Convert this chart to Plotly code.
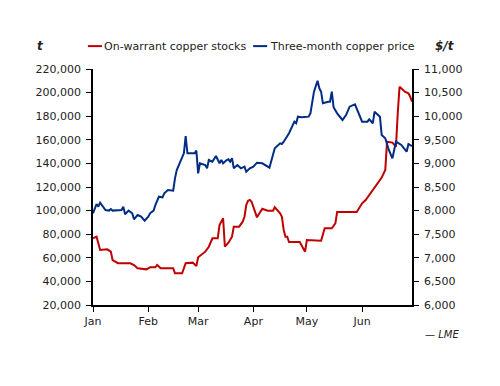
import plotly.graph_objects as go

# On-warrant copper stocks (t), left axis
stock_dates = ["2021-01-01","2021-01-03","2021-01-05","2021-01-09","2021-01-11","2021-01-12","2021-01-15",
    "2021-01-22","2021-01-24","2021-01-26","2021-01-31","2021-02-02","2021-02-05","2021-02-06","2021-02-08",
    "2021-02-15","2021-02-16","2021-02-20","2021-02-22","2021-02-26","2021-02-28","2021-03-01","2021-03-05",
    "2021-03-07","2021-03-09","2021-03-12","2021-03-13","2021-03-15","2021-03-16","2021-03-18","2021-03-20",
    "2021-03-21","2021-03-24","2021-03-26","2021-03-27","2021-03-28","2021-03-29","2021-03-30","2021-03-31",
    "2021-04-01","2021-04-03","2021-04-06","2021-04-09","2021-04-12","2021-04-13","2021-04-16","2021-04-17",
    "2021-04-18","2021-04-19","2021-04-20","2021-04-21","2021-04-27","2021-04-28","2021-04-30","2021-05-01",
    "2021-05-09","2021-05-11","2021-05-15","2021-05-17","2021-05-18","2021-05-29","2021-06-01","2021-06-03",
    "2021-06-07","2021-06-12","2021-06-14","2021-06-15","2021-06-18","2021-06-20","2021-06-21","2021-06-22",
    "2021-06-25","2021-06-27","2021-06-28","2021-06-29"]
stock_values = [76500,77900,66600,67200,65200,58100,55400,
    55400,53900,51100,50200,51900,51900,53900,51100,
    51100,46900,46900,55400,55900,53000,60400,65200,
    69400,76500,76500,87800,93500,69400,72800,77900,
    86400,86400,90600,94800,104700,108400,109000,107500,
    103300,94300,101600,99900,99900,102800,97700,94800,
    83600,77900,77900,73400,73400,70800,65200,75100,
    74500,85000,85000,89200,98800,98800,106200,109000,
    117000,128000,134400,158400,157600,154200,182500,205000,
    200800,199400,196500,192300]

# Three-month copper price ($/t), right axis
price_dates = ["2021-01-01","2021-01-02","2021-01-03","2021-01-04","2021-01-05","2021-01-08","2021-01-10",
    "2021-01-11","2021-01-12","2021-01-17","2021-01-18","2021-01-19","2021-01-21","2021-01-23","2021-01-24",
    "2021-01-26","2021-01-28","2021-01-30","2021-02-01","2021-02-02","2021-02-04","2021-02-05","2021-02-07",
    "2021-02-09","2021-02-10","2021-02-12","2021-02-14","2021-02-15","2021-02-16","2021-02-17","2021-02-19",
    "2021-02-21","2021-02-22","2021-02-23","2021-02-27","2021-02-28","2021-03-01","2021-03-02","2021-03-05",
    "2021-03-06","2021-03-07","2021-03-09","2021-03-11","2021-03-13","2021-03-14","2021-03-15","2021-03-17",
    "2021-03-18","2021-03-19","2021-03-20","2021-03-21","2021-03-23","2021-03-25","2021-03-27","2021-03-28",
    "2021-03-30","2021-04-01","2021-04-03","2021-04-06","2021-04-09","2021-04-10","2021-04-13","2021-04-16",
    "2021-04-17","2021-04-18","2021-04-21","2021-04-23","2021-04-24","2021-04-25","2021-04-26","2021-04-28",
    "2021-05-02","2021-05-03","2021-05-04","2021-05-05","2021-05-07","2021-05-08","2021-05-09","2021-05-10",
    "2021-05-13","2021-05-14","2021-05-15","2021-05-16","2021-05-18","2021-05-21","2021-05-23","2021-05-25",
    "2021-05-28","2021-06-01","2021-06-04","2021-06-05","2021-06-07","2021-06-08","2021-06-11","2021-06-12",
    "2021-06-14","2021-06-16","2021-06-18","2021-06-20","2021-06-23","2021-06-26","2021-06-27","2021-06-29"]
price_values = [7943,8028,8140,8083,8168,8013,8000,
    8034,8000,8013,8083,7922,8000,7943,7816,
    7907,7871,7786,7871,7943,8000,8119,8295,
    8282,8367,8437,8437,8422,8684,8860,9036,
    9214,9580,9214,9214,9270,8790,9002,8966,
    8896,9072,9036,9157,9002,9072,9002,9072,
    9087,9036,9108,8896,8966,8896,8930,8824,
    8896,8930,9015,9002,8930,8909,9320,9426,
    9411,9460,9638,9814,9884,9850,9990,9977,
    9990,10061,10343,10519,10752,10591,10519,10273,
    10307,10307,10519,10189,10061,9920,10025,10202,
    10252,9884,9884,9934,9850,10095,9990,9602,
    9532,9284,9108,9460,9390,9248,9411,9368]

month_ticks = ["2021-01-01","2021-02-01","2021-03-01","2021-04-01","2021-05-01","2021-06-01"]
month_labels = ["Jan","Feb","Mar","Apr","May","Jun"]

RED = "#C00000"
BLUE = "#002C84"
FONT = "DejaVu Sans"

fig = go.Figure()
fig.add_trace(go.Scatter(x=stock_dates, y=stock_values, mode="lines",
                         line=dict(color=RED, width=2), name="On-warrant copper stocks"))
fig.add_trace(go.Scatter(x=price_dates, y=price_values, mode="lines", yaxis="y2",
                         line=dict(color=BLUE, width=2), name="Three-month copper price"))

axis_common = dict(showgrid=False, zeroline=False, showline=True, linecolor="black", linewidth=1.5,
                   ticks="outside", ticklen=5, tickcolor="black", tickwidth=1,
                   tickfont=dict(family=FONT, size=11, color="#222"))

fig.update_layout(
    width=500, height=386,
    margin=dict(l=85, r=96, t=61, b=89),
    paper_bgcolor="white", plot_bgcolor="white",
    showlegend=False,
    font=dict(family=FONT, size=11, color="#222"),
    xaxis=dict(type="date", range=["2021-01-01", "2021-06-29"],
               tickvals=month_ticks, ticktext=month_labels, **axis_common),
    yaxis=dict(range=[20000, 220000], dtick=20000, tickformat=",", ticklabelstandoff=3,
               **axis_common),
    yaxis2=dict(range=[6000, 11000], dtick=500, tickformat=",", overlaying="y", side="right",
                ticklabelstandoff=3, **axis_common),
    annotations=[
        dict(text="<b><i>t</i></b>", xref="paper", yref="paper", x=-0.165, y=1.097,
             xanchor="center", yanchor="middle", showarrow=False, font=dict(size=12, color="#222")),
        dict(text="<b><i>$/t</i></b>", xref="paper", yref="paper", x=1.105, y=1.097,
             xanchor="center", yanchor="middle", showarrow=False, font=dict(size=12, color="#222")),
        dict(text="On-warrant copper stocks", xref="paper", yref="paper", x=0.028, y=1.097,
             xanchor="left", yanchor="middle", showarrow=False, font=dict(size=11, color="#222")),
        dict(text="Three-month copper price", xref="paper", yref="paper", x=0.548, y=1.097,
             xanchor="left", yanchor="middle", showarrow=False, font=dict(size=11, color="#222")),
        dict(text="<i>— LME</i>", xref="paper", yref="paper", x=1.153, y=-0.125,
             xanchor="right", yanchor="middle", showarrow=False, font=dict(size=10, color="#222")),
    ],
    shapes=[
        dict(type="line", xref="paper", yref="paper", x0=-0.016, x1=0.028, y0=1.097, y1=1.097,
             line=dict(color=RED, width=2)),
        dict(type="line", xref="paper", yref="paper", x0=0.502, x1=0.546, y0=1.097, y1=1.097,
             line=dict(color=BLUE, width=2)),
    ],
)

fig.write_html("out.html")
